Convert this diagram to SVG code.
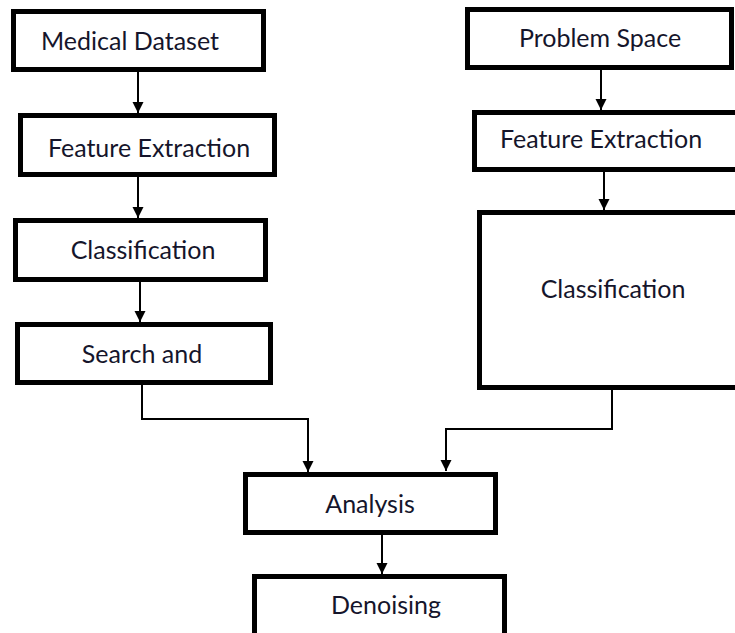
<svg xmlns="http://www.w3.org/2000/svg" width="735" height="633" viewBox="0 0 735 633">
  <style>
    .box { fill: #ffffff; stroke: #000000; stroke-width: 5; }
    .lbl { font-family: Lato, "Open Sans", "Liberation Sans", sans-serif; font-size: 25px; fill: #15152b; text-anchor: middle; }
    .wire { fill: none; stroke: #000000; stroke-width: 2; }
  </style>
  <defs>
    <marker id="arrow" markerUnits="userSpaceOnUse" markerWidth="12" markerHeight="12" viewBox="0 0 12 12" refX="11" refY="6" orient="auto">
      <path d="M0,0.5 L11,6 L0,11.5 Z" fill="#000000"/>
    </marker>
  </defs>
  <rect width="735" height="633" fill="#ffffff"/>

  <g id="connectors">
    <path class="wire" d="M138,72 V113" marker-end="url(#arrow)"/>
    <path class="wire" d="M138,177 V218" marker-end="url(#arrow)"/>
    <path class="wire" d="M140,282 V322" marker-end="url(#arrow)"/>
    <path class="wire" d="M142,385 V419 H308 V472" marker-end="url(#arrow)"/>
    <path class="wire" d="M612,390 V429 H446 V471" marker-end="url(#arrow)"/>
    <path class="wire" d="M382,535 V574" marker-end="url(#arrow)"/>
    <path class="wire" d="M601,70 V110" marker-end="url(#arrow)"/>
    <path class="wire" d="M604,172 V210" marker-end="url(#arrow)"/>
  </g>

  <g id="medical-dataset">
    <rect class="box" x="13.5" y="11.5" width="250" height="58"/>
    <text class="lbl" x="130" y="50">Medical Dataset</text>
  </g>
  <g id="feature-extraction-left">
    <rect class="box" x="20.5" y="115.5" width="254" height="59"/>
    <text class="lbl" x="149" y="157">Feature Extraction</text>
  </g>
  <g id="classification-left">
    <rect class="box" x="15.5" y="220.5" width="250" height="59"/>
    <text class="lbl" x="143" y="259">Classification</text>
  </g>
  <g id="search-and">
    <rect class="box" x="17.5" y="324.5" width="253" height="58"/>
    <text class="lbl" x="142" y="363">Search and</text>
  </g>
  <g id="problem-space">
    <rect class="box" x="467.5" y="9.5" width="264" height="58"/>
    <text class="lbl" x="600" y="47">Problem Space</text>
  </g>
  <g id="feature-extraction-right">
    <rect class="box" x="474.5" y="112.5" width="280" height="57"/>
    <text class="lbl" x="601" y="148">Feature Extraction</text>
  </g>
  <g id="classification-right">
    <rect class="box" x="479.5" y="212.5" width="280" height="175"/>
    <text class="lbl" x="613" y="298">Classification</text>
  </g>
  <g id="analysis">
    <rect class="box" x="245.5" y="474.5" width="250" height="58"/>
    <text class="lbl" x="370" y="513">Analysis</text>
  </g>
  <g id="denoising">
    <rect class="box" x="254.5" y="576.5" width="250" height="70"/>
    <text class="lbl" x="386" y="614">Denoising</text>
  </g>
</svg>
